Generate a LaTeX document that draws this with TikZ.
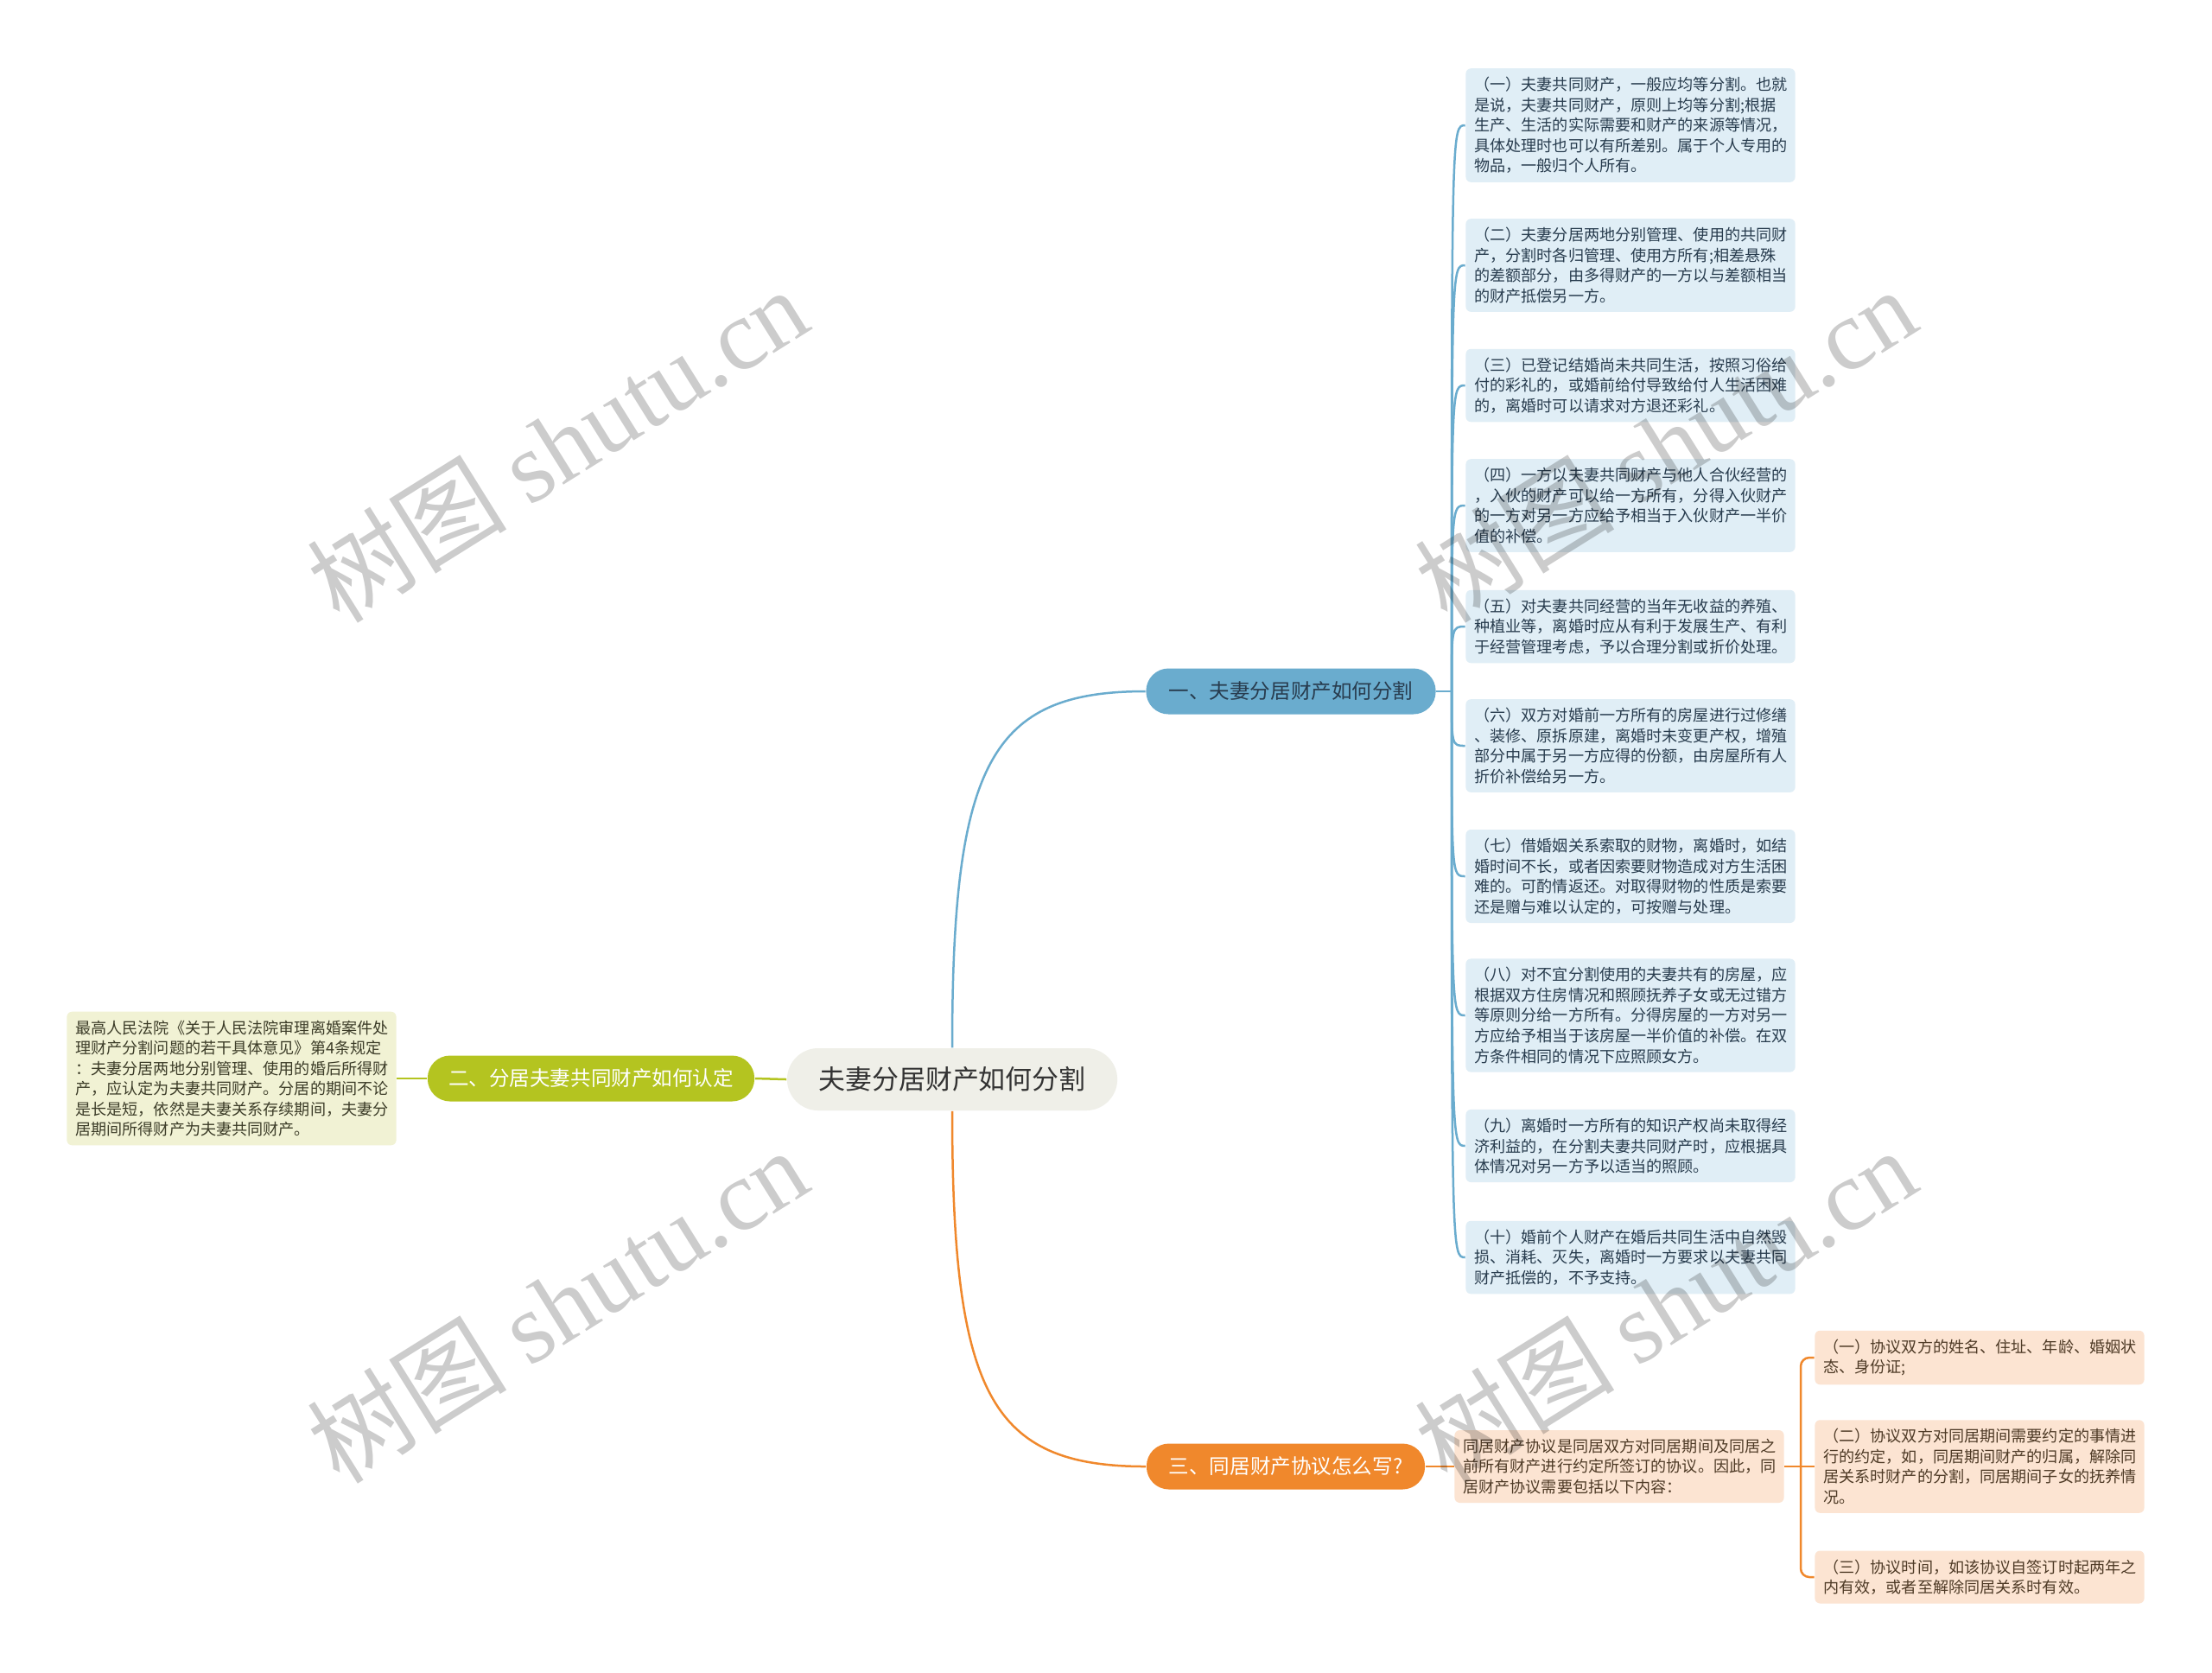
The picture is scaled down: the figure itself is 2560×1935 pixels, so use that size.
\documentclass[tikz,border=0pt]{standalone}
\usepackage{fontspec}
\newfontfamily\cjk{Noto Sans CJK SC}
\newfontfamily\wmserif{Liberation Serif}
\usetikzlibrary{calc}
\definecolor{rootfill}{RGB}{239,239,232}
\definecolor{bluemain}{RGB}{106,172,206}
\definecolor{bluelight}{RGB}{224,238,246}
\definecolor{bluetext}{RGB}{40,60,78}
\definecolor{greenmain}{RGB}{180,196,32}
\definecolor{greenlight}{RGB}{241,242,212}
\definecolor{greentext}{RGB}{60,60,40}
\definecolor{orangemain}{RGB}{240,136,44}
\definecolor{orangelight}{RGB}{252,228,210}
\definecolor{orangetext}{RGB}{78,58,38}
\definecolor{textdark}{RGB}{51,51,51}

\begin{document}
\begin{tikzpicture}[
  x=0.01cm, y=-0.01cm,
  rootbox/.style={rectangle, fill=rootfill, rounded corners=0.36cm, minimum width=3.82cm, minimum height=0.72cm, font=\cjk\fontsize{8.8}{10}\selectfont, text=textdark},
  mainbox/.style={rectangle, rounded corners=0.26cm, minimum height=0.53cm, font=\cjk\fontsize{6.7}{8}\selectfont},
  leafbox/.style={rectangle, rounded corners=0.06cm, text width=3.61cm, inner xsep=0.1cm, inner ysep=0.1cm, align=left, font=\cjk\fontsize{5.15}{6.69}\selectfont},
  blueleaf/.style={leafbox, fill=bluelight, text=bluetext},
  greenleaf/.style={leafbox, fill=greenlight, text=greentext},
  orangeleaf/.style={leafbox, fill=orangelight, text=orangetext},
  link/.style={line width=0.025cm},
  wmark/.style={rotate=32, font=\cjk\fontsize{33}{38}\selectfont, text=black, text opacity=0.2}
]
\fill[white] (0,0) rectangle (2560,1935);
\useasboundingbox (0,0) rectangle (2560,1935);

% centre and branches
\node[rootbox] (root) at (1102,1249) {夫妻分居财产如何分割};
\node[mainbox, fill=bluemain, text=bluetext, minimum width=3.35cm] (b1) at (1494,800) {一、夫妻分居财产如何分割};
\node[mainbox, fill=greenmain, text=white, minimum width=3.78cm] (b2) at (684,1248) {二、分居夫妻共同财产如何认定};
\node[mainbox, fill=orangemain, text=white, minimum width=3.22cm] (b3) at (1488,1697) {三、同居财产协议怎么写?};

% blue leaves
\node[blueleaf] (l1) at (1887,145) {（一）夫妻共同财产，一般应均等分割。也就\\是说，夫妻共同财产，原则上均等分割;根据\\生产、生活的实际需要和财产的来源等情况，\\具体处理时也可以有所差别。属于个人专用的\\物品，一般归个人所有。};
\node[blueleaf] (l2) at (1887,307) {（二）夫妻分居两地分别管理、使用的共同财\\产，分割时各归管理、使用方所有;相差悬殊\\的差额部分，由多得财产的一方以与差额相当\\的财产抵偿另一方。};
\node[blueleaf] (l3) at (1887,446) {（三）已登记结婚尚未共同生活，按照习俗给\\付的彩礼的，或婚前给付导致给付人生活困难\\的，离婚时可以请求对方退还彩礼。};
\node[blueleaf] (l4) at (1887,585) {（四）一方以夫妻共同财产与他人合伙经营的\\，入伙的财产可以给一方所有，分得入伙财产\\的一方对另一方应给予相当于入伙财产一半价\\值的补偿。};
\node[blueleaf] (l5) at (1887,725) {（五）对夫妻共同经营的当年无收益的养殖、\\种植业等，离婚时应从有利于发展生产、有利\\于经营管理考虑，予以合理分割或折价处理。};
\node[blueleaf] (l6) at (1887,863) {（六）双方对婚前一方所有的房屋进行过修缮\\、装修、原拆原建，离婚时未变更产权，增殖\\部分中属于另一方应得的份额，由房屋所有人\\折价补偿给另一方。};
\node[blueleaf] (l7) at (1887,1014) {（七）借婚姻关系索取的财物，离婚时，如结\\婚时间不长，或者因索要财物造成对方生活困\\难的。可酌情返还。对取得财物的性质是索要\\还是赠与难以认定的，可按赠与处理。};
\node[blueleaf] (l8) at (1887,1175) {（八）对不宜分割使用的夫妻共有的房屋，应\\根据双方住房情况和照顾抚养子女或无过错方\\等原则分给一方所有。分得房屋的一方对另一\\方应给予相当于该房屋一半价值的补偿。在双\\方条件相同的情况下应照顾女方。};
\node[blueleaf] (l9) at (1887,1326) {（九）离婚时一方所有的知识产权尚未取得经\\济利益的，在分割夫妻共同财产时，应根据具\\体情况对另一方予以适当的照顾。};
\node[blueleaf] (l10) at (1887,1455) {（十）婚前个人财产在婚后共同生活中自然毁\\损、消耗、灭失，离婚时一方要求以夫妻共同\\财产抵偿的，不予支持。};

% green leaf
\node[greenleaf] (g1) at (268,1248) {最高人民法院《关于人民法院审理离婚案件处\\理财产分割问题的若干具体意见》第4条规定\\：夫妻分居两地分别管理、使用的婚后所得财\\产，应认定为夫妻共同财产。分居的期间不论\\是长是短，依然是夫妻关系存续期间，夫妻分\\居期间所得财产为夫妻共同财产。};

% orange leaves
\node[orangeleaf] (o0) at (1874,1697) {同居财产协议是同居双方对同居期间及同居之\\前所有财产进行约定所签订的协议。因此，同\\居财产协议需要包括以下内容：};
\node[orangeleaf] (o1) at (2291,1571) {（一）协议双方的姓名、住址、年龄、婚姻状\\态、身份证;};
\node[orangeleaf] (o2) at (2291,1697) {（二）协议双方对同居期间需要约定的事情进\\行的约定，如，同居期间财产的归属，解除同\\居关系时财产的分割，同居期间子女的抚养情\\况。};
\node[orangeleaf] (o3) at (2291,1825) {（三）协议时间，如该协议自签订时起两年之\\内有效，或者至解除同居关系时有效。};

% connectors
\coordinate (c1) at (root.north |- b1.west);
\coordinate (c3) at (root.south |- b3.west);
\draw[link, bluemain] (root.north) .. controls ($(root.north)!0.8!(c1)$) and ($(b1.west)!0.8!(c1)$) .. (b1.west);
\draw[link, orangemain] (root.south) .. controls ($(root.south)!0.8!(c3)$) and ($(b3.west)!0.8!(c3)$) .. (b3.west);
\draw[link, greenmain] (root.west) -- (b2.east);
\draw[link, greenmain] (b2.west) -- (g1.east);

\coordinate (bj) at (1680,800);
\draw[link, bluemain] (b1.east) -- (bj);
\foreach \n in {1,...,10}
  \draw[link, bluemain] (bj) .. controls (bj |- l\n.west) .. (l\n.west);

\coordinate (bk) at (2084,1697);
\draw[link, orangemain] (b3.east) -- (o0.west);
\draw[link, orangemain] (o0.east) -- (bk) -- (o2.west);
\draw[link, orangemain, rounded corners=0.1cm] (o1.west) -| (bk) |- (o3.west);

% watermarks
\node[wmark] (w1) at (645,514) {树图 {\wmserif shutu.cn}};
\node[wmark] (w2) at (1927,514) {树图 {\wmserif shutu.cn}};
\node[wmark] (w3) at (645,1510) {树图 {\wmserif shutu.cn}};
\node[wmark] (w4) at (1927,1510) {树图 {\wmserif shutu.cn}};
\end{tikzpicture}
\end{document}
